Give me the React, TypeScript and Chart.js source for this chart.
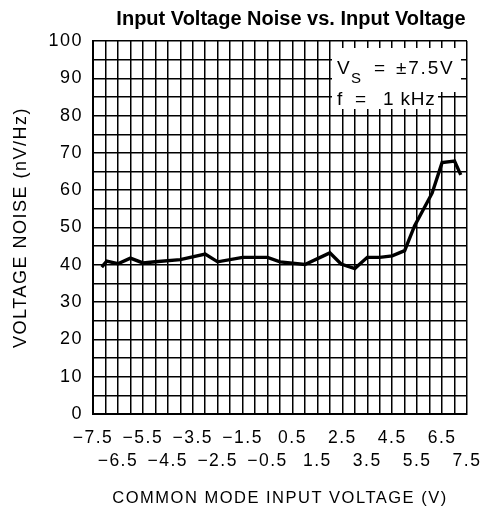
import React, { useEffect, useRef } from "react";
import { Chart, registerables } from "chart.js";

Chart.register(...registerables);

const TITLE = "Input Voltage Noise vs. Input Voltage";
const X_TITLE = "COMMON MODE INPUT VOLTAGE (V)";
const Y_TITLE = "VOLTAGE NOISE (nV/Hz)";

// Common-mode input voltage (V)
const voltage = [-7.15, -6.95, -6.5, -6.0, -5.5, -5.0, -4.0, -3.0, -2.5, -1.5, -0.5, 0.0, 1.0, 2.0, 2.45, 3.0, 3.5, 4.0, 4.5, 5.0, 5.4, 6.1, 6.5, 7.0, 7.25];
// Voltage noise (nV/√Hz)
const noise = [39.4, 41.0, 40.3, 41.8, 40.5, 40.8, 41.4, 42.9, 40.8, 42.0, 42.0, 40.8, 40.1, 43.2, 40.2, 39.0, 42.0, 42.0, 42.4, 43.8, 50.5, 59.2, 67.4, 67.8, 64.1];

const xTickValues = [-7.5, -6.5, -5.5, -4.5, -3.5, -2.5, -1.5, -0.5, 0.5, 1.5, 2.5, 3.5, 4.5, 5.5, 6.5, 7.5];
const xTickLabels = ["\u22127.5", "\u22126.5", "\u22125.5", "\u22124.5", "\u22123.5", "\u22122.5", "\u22121.5", "\u22120.5", "0.5", "1.5", "2.5", "3.5", "4.5", "5.5", "6.5", "7.5"];
const yTickValues = [0, 10, 20, 30, 40, 50, 60, 70, 80, 90, 100];
const yTickLabels = ["0", "10", "20", "30", "40", "50", "60", "70", "80", "90", "100"];

const FONT = "'Liberation Sans', Arial, sans-serif";
const SPACING = "1.5px";

const spacingPlugin = {
  id: "spacing",
  beforeLayout(chart: any) {
    chart.ctx.letterSpacing = SPACING;
  },
  beforeDraw(chart: any) {
    chart.ctx.letterSpacing = SPACING;
  },
};

const notePlugin = {
  id: "notes",
  afterDraw(chart: any) {
    const ctx = chart.ctx as CanvasRenderingContext2D;
    ctx.save();
    (ctx as any).letterSpacing = "0px";
    ctx.fillStyle = "#000";
    ctx.font = `bold 20px ${FONT}`;
    ctx.textAlign = "center";
    ctx.textBaseline = "alphabetic";
    ctx.fillText(TITLE, 291, 25);
    ctx.restore();
  },
  beforeDatasetsDraw(chart: any) {
    const ctx = chart.ctx as CanvasRenderingContext2D;
    ctx.save();
    ctx.fillStyle = "#fff";
    ctx.fillRect(332, 48, 129, 44);
    ctx.fillRect(332, 92, 106, 17);
    ctx.fillStyle = "#000";
    (ctx as any).letterSpacing = "1.8px";
    ctx.textAlign = "left";
    ctx.textBaseline = "alphabetic";
    ctx.font = `19px ${FONT}`;
    ctx.fillText("V", 337, 74);
    ctx.font = `15px ${FONT}`;
    ctx.fillText("S", 351, 83);
    ctx.font = `19px ${FONT}`;
    ctx.fillText("=", 374, 74);
    ctx.fillText("\u00b17.5V", 396, 74);
    ctx.fillText("f", 337, 105);
    ctx.fillText("=", 355, 105);
    (ctx as any).letterSpacing = "0.8px";
    ctx.fillText("1 kHz", 383, 105);
    ctx.restore();
  },
};

export default function App() {
  const ref = useRef<HTMLCanvasElement>(null);
  useEffect(() => {
    document.body.style.margin = "0";
    const canvas = ref.current!;
    const chart = new Chart(canvas, {
      type: "line",
      data: {
        datasets: [
          {
            data: voltage.map((v, i) => ({ x: v, y: noise[i] })),
            borderColor: "#000",
            borderWidth: 3.4,
            pointRadius: 0,
            tension: 0,
            fill: false,
          },
        ],
      },
      options: {
        animation: false,
        responsive: false,
        devicePixelRatio: 1,
        layout: { padding: { left: 0, right: 18, top: 41, bottom: 0 } },
        plugins: { legend: { display: false }, title: { display: false }, tooltip: { enabled: false } },
        scales: {
          x: {
            type: "linear",
            min: -7.5,
            max: 7.5,
            border: { color: "#000", width: 2 },
            grid: { color: "#000", lineWidth: 1.5, drawTicks: false },
            afterFit(scale: any) {
              scale.height = 106;
              scale.paddingLeft = 0;
              scale.paddingRight = 0;
            },
            afterBuildTicks(scale: any) {
              const t: any[] = [];
              for (let i = 0; i <= 30; i++) t.push({ value: -7.5 + i * 0.5 });
              scale.ticks = t;
            },
            ticks: {
              autoSkip: false,
              maxRotation: 0,
              minRotation: 0,
              padding: 13,
              color: "#000",
              font: { family: FONT, size: 17.5, lineHeight: 1.3 },
              callback: (value: any) => {
                const idx = xTickValues.findIndex((v) => Math.abs(v - Number(value)) < 1e-6);
                if (idx < 0) return "";
                return idx % 2 === 0 ? xTickLabels[idx] : ["", xTickLabels[idx]];
              },
            },
            title: {
              display: true,
              text: X_TITLE,
              color: "#000",
              font: { family: FONT, size: 16.5 },
              padding: { top: 0, bottom: 12 },
            },
          },
          y: {
            min: 0,
            max: 100,
            border: { color: "#000", width: 2 },
            grid: { color: "#000", lineWidth: 1.5, drawTicks: false },
            afterFit(scale: any) {
              scale.width = 93;
              scale.paddingTop = 0;
              scale.paddingBottom = 0;
            },
            afterBuildTicks(scale: any) {
              const t: any[] = [];
              for (let i = 0; i <= 20; i++) t.push({ value: i * 5 });
              scale.ticks = t;
            },
            ticks: {
              autoSkip: false,
              padding: 10,
              color: "#000",
              font: { family: FONT, size: 18 },
              callback: (value: any) => {
                const idx = yTickValues.indexOf(Number(value));
                return idx < 0 ? "" : yTickLabels[idx];
              },
            },
            title: {
              display: true,
              text: Y_TITLE,
              color: "#000",
              font: { family: FONT, size: 18 },
              padding: { top: 10, bottom: 0 },
            },
          },
        },
      },
      plugins: [spacingPlugin, notePlugin],
    } as any);
    return () => chart.destroy();
  }, []);
  return <canvas ref={ref} width={485} height={520} style={{ display: "block" }} />;
}
